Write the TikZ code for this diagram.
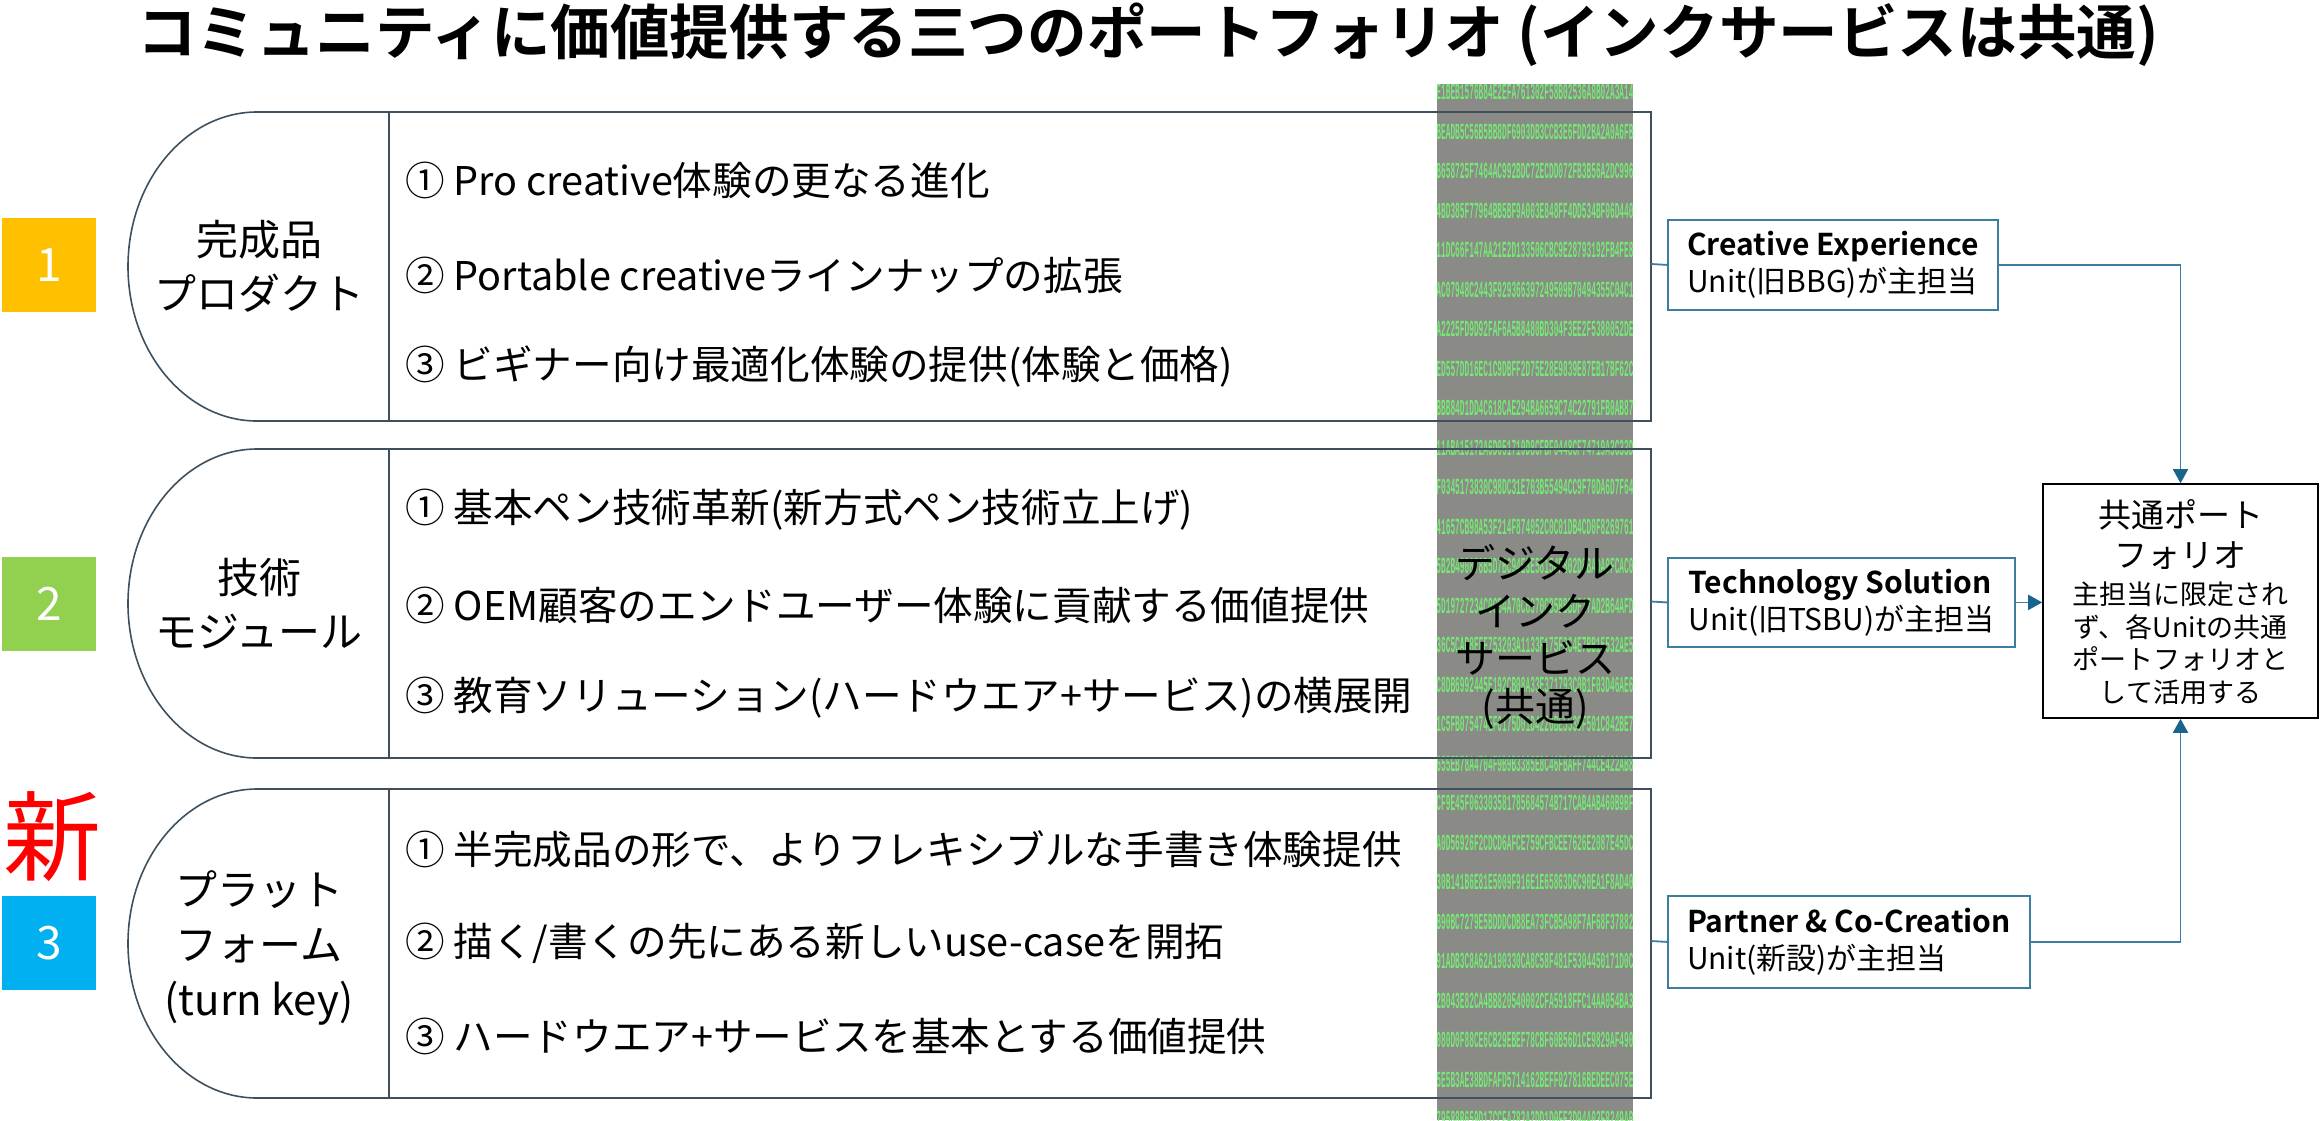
\documentclass[tikz,border=0pt]{standalone}
\usepackage{fontspec}
\usepackage{graphicx}
\setmainfont{Noto Sans CJK JP}[BoldFont={Noto Sans CJK JP Bold}]
\newfontfamily\hexfont{Liberation Mono}
\usetikzlibrary{arrows.meta}
\definecolor{bandc}{RGB}{62,80,94}
\definecolor{connc}{RGB}{60,125,160}
\definecolor{arrowc}{RGB}{25,100,140}
\definecolor{inkgray}{RGB}{138,138,134}
\definecolor{hexgreen}{RGB}{118,232,118}
\definecolor{numA}{HTML}{FFC000}
\definecolor{numB}{HTML}{92D050}
\definecolor{numC}{HTML}{00B0F0}
\tikzset{
  bandline/.style={draw=bandc, line width=1.6pt},
  item/.style={anchor=west, inner sep=0pt, font=\fontsize{39.6}{47}\selectfont},
  blabel/.style={align=center, inner sep=0pt, font=\fontsize{42}{54}\selectfont},
  numbox/.style={minimum width=94pt, minimum height=94pt, inner sep=0pt, text=white, font=\fontsize{46}{46}\selectfont},
  ubox/.style={draw=connc, line width=1.8pt, fill=white, align=left, inner xsep=19pt, inner ysep=0pt, anchor=north west, font=\fontsize{30}{37}\selectfont},
  conn/.style={draw=connc, line width=1.8pt},
  arr/.style={conn, -{Triangle[length=14pt,width=15pt,color=arrowc]}},
  hexrow/.style={inner sep=0pt, text=hexgreen, font=\hexfont\bfseries\fontsize{23}{23}\selectfont},
}
\begin{document}
\begin{tikzpicture}[x=1pt,y=-1pt]
\useasboundingbox (0,0) rectangle (2320,1120);

% title
\node[inner sep=0pt, font=\bfseries\fontsize{59.6}{64}\selectfont] (title) at (1148,35)
  {コミュニティに価値提供する三つのポートフォリオ (インクサービスは共通)};

% digital ink band (texture)
\begin{scope}
  \clip (1437,84) rectangle (1633,1120);
  \fill[inkgray] (1437,84) rectangle (1633,1120);
  \pgfmathsetseed{7}
  \foreach \r in {0,...,26}{
    \gdef\hexrowtxt{}
    \foreach \c in {1,...,44}{
      \pgfmathrandominteger{\hv}{0}{15}
      \pgfmathparse{Hex(\hv)}
      \xdef\hexrowtxt{\hexrowtxt\pgfmathresult}
    }
    \node[hexrow] (hex\r) at (1535,{92+39.5*\r}) {\scalebox{0.34}[1]{\hexrowtxt}};
  }
\end{scope}

% bands
\foreach \t in {112,449,789}{
  \draw[bandline] (257,\t) -- (1651,\t) -- (1651,\t+309) -- (257,\t+309)
     .. controls (186,\t+309) and (128,\t+239.8) .. (128,\t+154.5)
     .. controls (128,\t+69.2) and (186,\t) .. (257,\t) -- cycle;
  \draw[bandline] (389,\t) -- (389,\t+309);
}
\coordinate (b1e) at (1651,264);
\coordinate (b2e) at (1651,601.5);
\coordinate (b3e) at (1651,941);

% band labels
\node[blabel] (l1) at (259,266.5) {完成品\\プロダクト};
\node[blabel] (l2) at (259,603.5) {技術\\モジュール};
\node[blabel, font=\fontsize{42}{55}\selectfont] (l3) at (259,948) {プラット\\フォーム\\(turn key)};

% items
\node[item] (i11) at (405,180) {① Pro creative体験の更なる進化};
\node[item] (i12) at (405,275) {② Portable creativeラインナップの拡張};
\node[item] (i13) at (405,367) {③ ビギナー向け最適化体験の提供(体験と価格)};
\node[item] (i21) at (405,510) {① 基本ペン技術革新(新方式ペン技術立上げ)};
\node[item] (i22) at (405,605) {② OEM顧客のエンドユーザー体験に貢献する価値提供};
\node[item] (i23) at (405,698) {③ 教育ソリューション(ハードウエア+サービス)の横展開};
\node[item] (i31) at (405,849) {① 半完成品の形で、よりフレキシブルな手書き体験提供};
\node[item] (i32) at (405,943) {② 描く/書くの先にある新しいuse-caseを開拓};
\node[item] (i33) at (405,1036) {③ ハードウエア+サービスを基本とする価値提供};

% digital ink label
\node[align=center, inner sep=0pt, font=\fontsize{40}{47.5}\selectfont] (ink) at (1535,637)
  {デジタル\\インク\\サービス\\(共通)};

% number boxes
\node[numbox, fill=numA] (n1) at (49,265) {1};
\node[numbox, fill=numB] (n2) at (49,604) {2};
\node[numbox, fill=numC] (n3) at (49,943) {3};
\node[inner sep=0pt, text=red, font=\fontsize{98}{98}\selectfont] (new) at (52,837) {新};

% unit boxes
\node[ubox, minimum width=330pt, minimum height=90pt] (ce) at (1667,219)
  {{\bfseries Creative Experience}\\Unit(旧BBG)が主担当};
\node[ubox, minimum width=347pt, minimum height=89pt] (ts) at (1667,557)
  {{\bfseries Technology Solution}\\Unit(旧TSBU)が主担当};
\node[ubox, minimum width=362pt, minimum height=92pt] (pc) at (1667,895)
  {{\bfseries Partner \& Co-Creation}\\Unit(新設)が主担当};

% common box
\node[draw=black, line width=1.6pt, minimum width=275pt, minimum height=234pt, inner sep=0pt] (common) at (2180.5,601) {};
\node[align=center, inner sep=0pt, font=\fontsize{33}{40}\selectfont] (ctitle) at (2180.5,535) {共通ポート\\フォリオ};
\node[align=center, inner sep=0pt, font=\fontsize{27}{32.5}\selectfont] (ctext) at (2180.5,643.5)
  {主担当に限定され\\ず、各Unitの共通\\ポートフォリオと\\して活用する};

% connectors
\draw[conn] (b1e) -- (ce.west);
\draw[conn] (b2e) -- (ts.west);
\draw[conn] (b3e) -- (pc.west);
\draw[arr] (ce.east) -| (common.north);
\draw[arr] (ts.east) -- (ts.east -| common.west);
\draw[arr] (pc.east) -| (common.south);
\end{tikzpicture}
\end{document}
